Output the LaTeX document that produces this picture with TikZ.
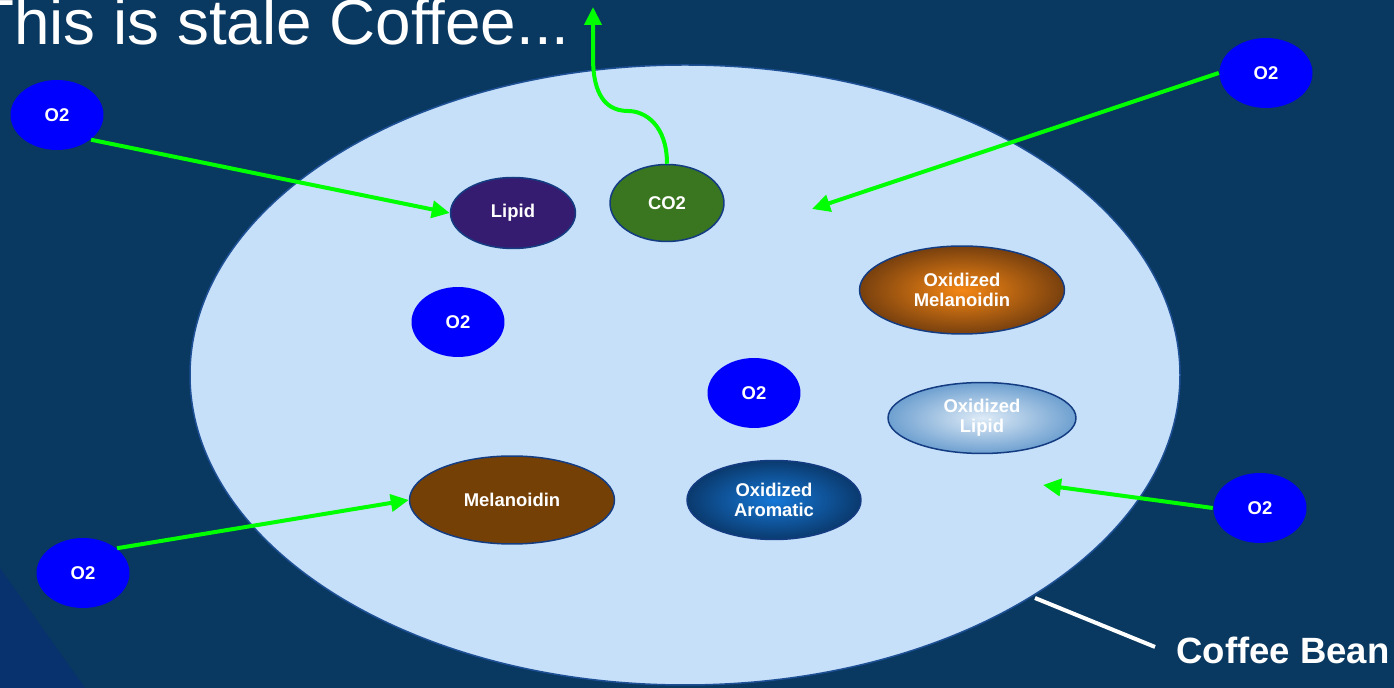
\documentclass[tikz,border=0pt]{standalone}
\usepackage{fontspec}
\setmainfont{Liberation Sans}
\usetikzlibrary{shapes.geometric,arrows.meta}

\definecolor{night}{RGB}{9,56,97}
\definecolor{nightcorner}{RGB}{8,50,110}
\definecolor{beanfill}{RGB}{198,224,250}
\definecolor{beanrim}{RGB}{30,80,150}
\definecolor{molrim}{RGB}{20,60,130}
\definecolor{oxblue}{RGB}{0,0,255}
\definecolor{gas}{RGB}{0,255,0}
\definecolor{lipidfill}{RGB}{54,28,112}
\definecolor{cofill}{RGB}{58,117,32}
\definecolor{melfill}{RGB}{117,64,6}

\begin{document}
\begin{tikzpicture}[x=0.02cm, y=-0.02cm,
    mol/.style={ellipse, draw=molrim, line width=0.03cm, inner sep=0pt, text=white,
        align=center, font=\fontsize{10.5}{11.4}\selectfont\bfseries},
    oxy/.style={mol, draw=none, fill=oxblue, minimum width=1.86cm, minimum height=1.4cm},
    flow/.style={draw=gas, line width=0.08cm, -{Triangle[length=0.36cm, width=0.34cm]}}]

    % background
    \fill [night] (0, 0) rectangle (1394, 688);
    \useasboundingbox (0, 0) rectangle (1394, 688);
    \fill [nightcorner] (0, 568) -- (85, 688) -- (0, 688) -- cycle;

    % the bean
    \draw [beanrim, fill=beanfill, line width=0.03cm] (685, 375) ellipse [x radius=495, y radius=310];

    \node [anchor=base west, text=white, font=\fontsize{36.3}{40}\selectfont] (title) at (-31, 45) {This is stale Coffee...};

    % O2
    \foreach \name/\x/\y in {o2a/57/115, o2b/1266/73, o2c/458/322, o2d/754/393, o2e/1260/508, o2f/83/573} {
        \node [oxy] (\name) at (\x, \y) {O2};
    }

    % molecules
    \node [mol, fill=lipidfill, minimum width=2.5cm, minimum height=1.42cm] (lipid) at (513, 213) {Lipid};
    \node [mol, fill=cofill, minimum width=2.28cm, minimum height=1.54cm] (co2) at (667, 203) {CO2};
    \node [mol, fill=melfill, minimum width=4.1cm, minimum height=1.76cm] (melanoidin) at (512, 500) {Melanoidin};

    % oxidized ones
    \node [mol, shading=radial, inner color={rgb,255:red,245;green,135;blue,20}, outer color={rgb,255:red,120;green,64;blue,14},
        minimum width=4.1cm, minimum height=1.76cm] (oxmel) at (962, 290) {Oxidized\\Melanoidin};
    \node [mol, shading=radial, inner color={rgb,255:red,222;green,235;blue,247}, outer color={rgb,255:red,110;green,160;blue,208},
        minimum width=3.76cm, minimum height=1.42cm] (oxlip) at (982, 418) {Oxidized\\Lipid};
    \node [mol, shading=radial, inner color={rgb,255:red,22;green,120;blue,215}, outer color={rgb,255:red,10;green,58;blue,110},
        minimum width=3.48cm, minimum height=1.58cm] (oxaro) at (774, 500) {Oxidized\\Aromatic};

    % arrows
    \coordinate (inright) at (812, 209);
    \coordinate (inlow) at (1043, 485);
    \coordinate (out) at (593, 7);
    \draw [flow] (o2a.-36) -- (lipid.west);
    \draw [flow] (o2b.west) -- (inright);
    \draw [flow] (o2e.west) -- (inlow);
    \draw [flow] (o2f.36) -- (melanoidin.west);
    \draw [flow] (co2.north) .. controls (667, 125) and (645, 111) .. (628, 111)
        .. controls (600, 111) and (593, 85) .. (593, 58) -- (out);

    % label
    \node [anchor=base west, inner sep=0pt, text=white, font=\fontsize{20.8}{24}\selectfont\bfseries] (bean) at (1176, 664) {Coffee Bean};
    \coordinate (beanrim) at (1035, 598);
    \draw [white, line width=0.08cm] (beanrim) -- ([xshift=-0.42cm, yshift=0.08cm]bean.west);
\end{tikzpicture}
\end{document}
